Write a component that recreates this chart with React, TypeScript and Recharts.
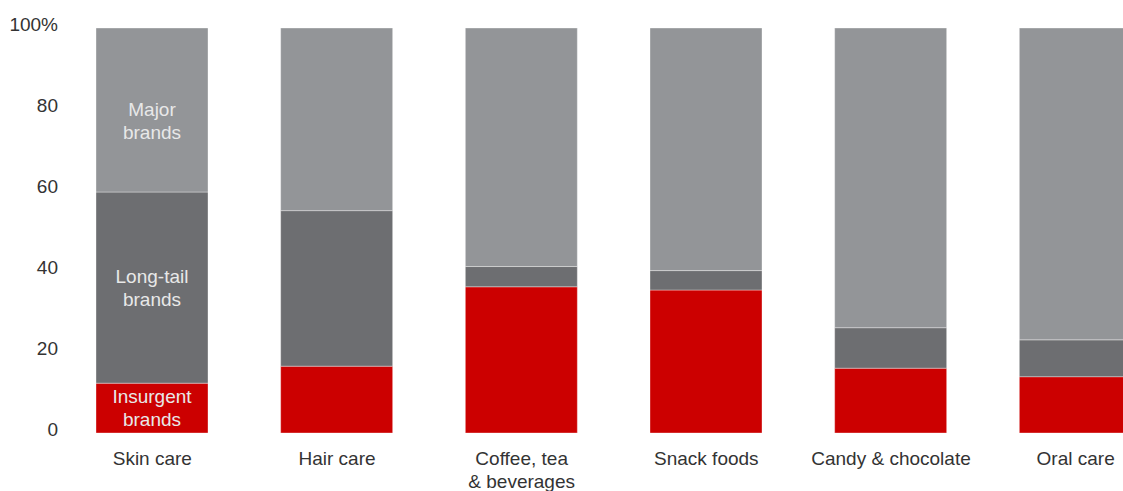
import React from "react";
import { BarChart, Bar, XAxis, YAxis, LabelList } from "recharts";

const categories = ["Skin care", "Hair care", "Coffee, tea & beverages", "Snack foods", "Candy & chocolate", "Oral care"];
const categoryLines = [["Skin care"], ["Hair care"], ["Coffee, tea", "& beverages"], ["Snack foods"], ["Candy & chocolate"], ["Oral care"]];
const insurgent = [12.3, 16.5, 36.1, 35.3, 16.0, 13.9];
const longTail = [47.2, 38.4, 5.0, 4.8, 10.0, 9.1];
const major = [40.5, 45.1, 58.9, 59.9, 74.0, 77.0];
const yTicks = [0, 20, 40, 60, 80, 100];
const seriesLabels = { insurgent: ["Insurgent", "brands"], longTail: ["Long-tail", "brands"], major: ["Major", "brands"] };

const data = categories.map((c, i) => ({
  category: c,
  insurgent: insurgent[i],
  longTail: longTail[i],
  major: major[i],
}));

const FONT = "'Liberation Sans', Arial, sans-serif";
const FS = 19;

const XTick = (props: any) => {
  const { x, y, payload, index } = props;
  const lines = categoryLines[index] || [payload.value];
  return (
    <text x={x} y={y} textAnchor="middle" fill="#333333" fontSize={FS} fontFamily={FONT}>
      {lines.map((l: string, i: number) => (
        <tspan key={i} x={x} dy={i === 0 ? 31.5 : 23.5}>{l}</tspan>
      ))}
    </text>
  );
};

const YTick = (props: any) => {
  const { x, y, payload } = props;
  const label = payload.value === 100 ? "100%" : String(payload.value);
  return (
    <text x={x} y={y} dy={2.5} textAnchor="end" fill="#333333" fontSize={FS} fontFamily={FONT}>
      {label}
    </text>
  );
};

const makeLabel = (lines: string[], offset: number) => (props: any) => {
  const { x, y, width, height, index } = props;
  if (index !== 0) return null;
  const cx = x + width / 2;
  const cy = y + height / 2 + offset;
  return (
    <text x={cx} y={cy} textAnchor="middle" fill="#e8e8e8" fontSize={FS} fontFamily={FONT}>
      <tspan x={cx} dy={-5}>{lines[0]}</tspan>
      <tspan x={cx} dy={23}>{lines[1]}</tspan>
    </text>
  );
};

export default function App() {
  return (
    <div style={{ position: "fixed", left: 0, top: 0, width: 1123, height: 491, overflow: "hidden", background: "#ffffff" }}>
      <BarChart
        width={1168}
        height={491}
        data={data}
        margin={{ top: 28, right: 0, bottom: 0, left: 0 }}
        barSize={112}
      >
        <XAxis
          dataKey="category"
          axisLine={false}
          tickLine={false}
          tickSize={0}
          tickMargin={0}
          height={58}
          interval={0}
          tick={<XTick />}
        />
        <YAxis
          domain={[0, 100]}
          ticks={yTicks}
          axisLine={false}
          tickLine={false}
          tickSize={0}
          tickMargin={2}
          width={60}
          tick={<YTick />}
        />
        <Bar dataKey="insurgent" stackId="a" fill="#cc0000" stroke="#ffffff" strokeOpacity={0.35} strokeWidth={1} isAnimationActive={false}>
          <LabelList content={makeLabel(seriesLabels.insurgent, 0)} />
        </Bar>
        <Bar dataKey="longTail" stackId="a" fill="#6d6e71" stroke="#ffffff" strokeOpacity={0.35} strokeWidth={1} isAnimationActive={false}>
          <LabelList content={makeLabel(seriesLabels.longTail, 0)} />
        </Bar>
        <Bar dataKey="major" stackId="a" fill="#939598" stroke="#ffffff" strokeOpacity={0.35} strokeWidth={1} isAnimationActive={false}>
          <LabelList content={makeLabel(seriesLabels.major, 11)} />
        </Bar>
      </BarChart>
    </div>
  );
}
